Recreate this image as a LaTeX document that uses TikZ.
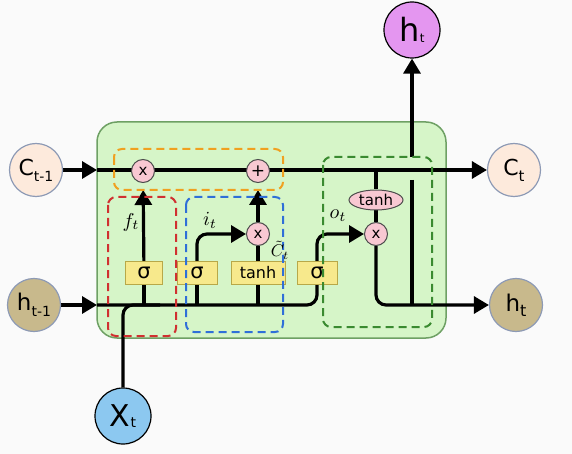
\documentclass[tikz,border=0pt]{standalone}
\usepackage{graphicx}
\usepackage{fontspec}
\setmainfont{DejaVu Sans}
\usetikzlibrary{arrows.meta,shapes.geometric,calc}
\newcommand\fsz[1]{\fontsize{#1}{#1}\selectfont}
\definecolor{bgcol}{HTML}{FAFAFA}
\definecolor{cellg}{HTML}{D6F5C8}
\definecolor{cellb}{HTML}{6EA064}
\definecolor{gatey}{HTML}{F7E98C}
\definecolor{gateb}{HTML}{B8A848}
\definecolor{opink}{HTML}{F8C8D2}
\definecolor{peach}{HTML}{FDEADC}
\definecolor{khaki}{HTML}{C8B98C}
\definecolor{ringb}{HTML}{8D9AB5}
\definecolor{violetc}{HTML}{E496F0}
\definecolor{xblue}{HTML}{8CC8F0}
\definecolor{dorange}{HTML}{F0A020}
\definecolor{dred}{HTML}{D03030}
\definecolor{dblue}{HTML}{2F6FD8}
\definecolor{dgreen}{HTML}{3A8A30}
\pgfdeclarelayer{boxl}
\pgfdeclarelayer{linel}
\pgfsetlayers{boxl,linel,main}
\begin{document}
\begin{tikzpicture}[x=1pt,y=-1pt,
  line/.style={line width=3.2pt, black},
  arr/.style={line, -{Triangle[length=15pt,width=17pt]}},
  io/.style={circle, minimum size=53pt, inner sep=0pt, line width=1.2pt},
  op/.style={circle, draw=black!70, fill=opink, line width=1pt, minimum size=23pt, inner sep=0pt, font=\fsz{15}},
  gate/.style={rectangle, draw=gateb, fill=gatey, line width=1pt, minimum height=23pt, inner sep=0pt},
  dbox/.style={line width=2pt, rounded corners=8pt, dash pattern=on 8pt off 5pt},
  lab/.style={inner sep=0pt}
]
\useasboundingbox (0,0) rectangle (572,454);
\begin{pgfonlayer}{boxl}
\fill[bgcol] (0,0) rectangle (572,454);
\draw[fill=cellg, draw=cellb, line width=1.5pt, rounded corners=20pt] (97,122) rectangle (446,338);
\end{pgfonlayer}

% outer nodes
\node[io, fill=peach, draw=ringb] (cprev) at (36,170) {\fsz{22}C\raisebox{-6pt}{\fsz{14}t-1}};
\node[io, fill=peach, draw=ringb] (cnext) at (514,170) {\fsz{22}C\raisebox{-6pt}{\fsz{15}t}};
\node[io, fill=khaki, draw=ringb] (hprev) at (34,305) {\fsz{23}h\raisebox{-6pt}{\fsz{14}t-1}};
\node[io, fill=khaki, draw=ringb] (hnext) at (516,305) {\fsz{23}h\raisebox{-5pt}{\fsz{16}t}};
\node[io, fill=violetc, draw=black, minimum size=56pt] (hout) at (412,30) {\fsz{32}h\raisebox{-1pt}{\fsz{12}t}};
\node[io, fill=xblue, draw=black, minimum size=56pt] (xt) at (123,416) {\fsz{30}X\raisebox{-1pt}{\fsz{14}t}};

% operations
\node[op] (xf) at (143,171) {x};
\node[op, font=\fsz{17}] (plus) at (258,171) {+};
\node[op] (xi) at (258,234) {x};
\node[op] (xo) at (376,234) {x};
\node[ellipse, draw=black!70, fill=opink, line width=1pt, minimum width=54pt, minimum height=20pt, inner sep=0pt, font=\fsz{15}] (th) at (376,200) {tanh};

% gates
\node[gate, minimum width=37pt, font=\fsz{21}] (sf) at (144,273) {σ};
\node[gate, minimum width=40pt, font=\fsz{21}] (si) at (197,273) {σ};
\node[gate, minimum width=54pt, font=\fsz{16}] (tg) at (258,273) {tanh};
\node[gate, minimum width=40pt, font=\fsz{21}] (so) at (317,273) {σ};

% coordinates
\coordinate (cin) at (97,170);
\coordinate (hin) at (97,305);
\coordinate (xjoin) at (160,305);
\coordinate (cbr) at (376,170);
\coordinate (hup1) at (412,157);
\coordinate (hup2) at (412,180);
\coordinate (hjoin) at (412,305);

\begin{pgfonlayer}{linel}
\draw[arr] (cprev) -- (cin);
\draw[arr] (cin) -- (cnext);
\draw[arr] (hprev) -- (hin);
\draw[arr, rounded corners=10pt] (hin) -| (so.center) |- (xo);
\draw[line, rounded corners=10pt] (xt) |- (xjoin);
\draw[line] (sf |- hin) -- (sf);
\draw[arr, shorten >=7pt] (sf) -- (xf);
\draw[line] (si |- hin) -- (si);
\draw[arr, rounded corners=10pt] (si) |- (xi);
\draw[line] (tg |- hin) -- (tg);
\draw[line] (tg) -- (xi);
\draw[arr, shorten >=7pt] (xi) -- (plus);
\draw[line] (cbr) -- (th);
\draw[line] (th) -- (xo);
\draw[arr, rounded corners=10pt] (xo) |- (hnext);
\draw[arr] (hup1) -- (hout);
\draw[line] (hup2) -- (hjoin);
\end{pgfonlayer}

% dashed groups
\draw[dbox, dorange] (114,149) rectangle (283,190);
\draw[dbox, dred] (108,197) rectangle (176,336);
\draw[dbox, dblue] (186,197) rectangle (283,332);
\draw[dbox, dgreen] (323,157) rectangle (432,327);

% labels
\node[lab] (lf) at (131,222) {\scalebox{2.0}{$f_t$}};
\node[lab] (li) at (210,220) {\scalebox{2.0}{$i_t$}};
\node[lab] (lo) at (338,216) {\scalebox{2.0}{$o_t$}};
\node[lab] (lc) at (280,250) {\scalebox{1.7}{$\tilde{C}_t$}};
\end{tikzpicture}
\end{document}
